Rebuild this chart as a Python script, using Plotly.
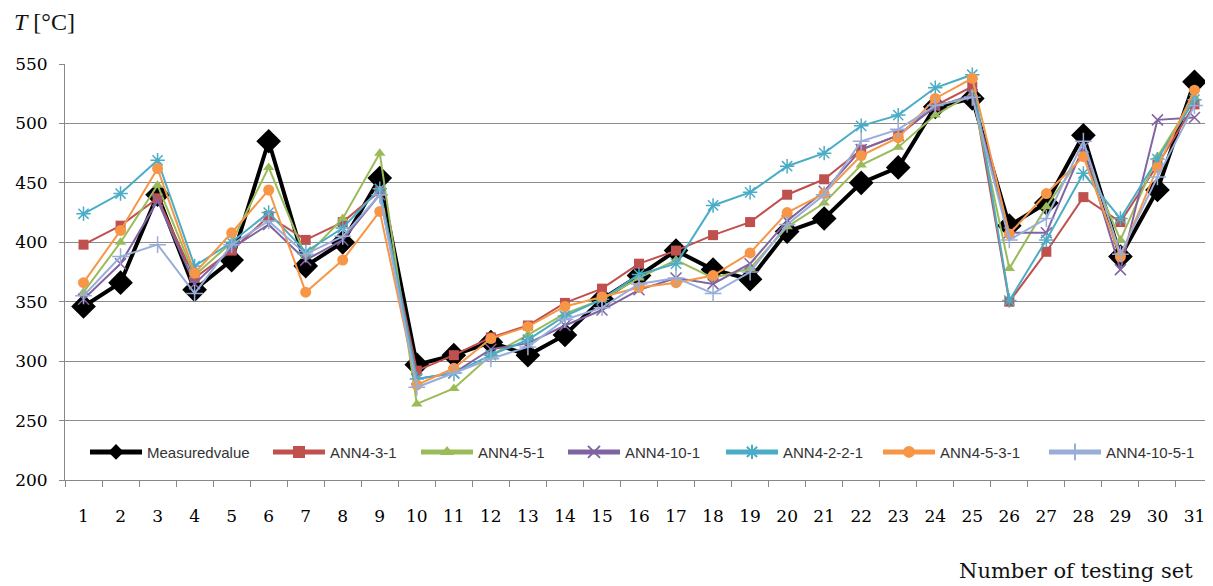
import plotly.graph_objects as go

categories = [str(i) for i in range(1, 32)]

measured = [346, 366, 440, 360, 385, 485, 380, 400, 454, 297, 305, 316, 305, 322, 352, 372,
            393, 377, 369, 409, 420, 450, 463, 514, 521, 414, 433, 490, 388, 444, 535]
ann4_3_1 = [398, 414, 437, 370, 393, 422, 402, 417, 443, 292, 305, 320, 330, 349, 361, 382,
            393, 406, 417, 440, 453, 478, 490, 515, 531, 350, 392, 438, 417, 465, 516]
ann4_5_1 = [358, 400, 448, 372, 400, 463, 388, 420, 475, 264, 277, 305, 322, 340, 352, 370,
            385, 370, 378, 413, 433, 465, 480, 507, 525, 378, 430, 475, 402, 472, 522]
ann4_10_1 = [352, 382, 435, 365, 395, 415, 385, 402, 440, 285, 290, 310, 315, 330, 343, 360,
             370, 365, 382, 418, 443, 478, 490, 514, 524, 408, 408, 480, 377, 503, 505]
ann4_2_2_1 = [424, 441, 469, 380, 400, 425, 392, 412, 445, 285, 290, 305, 318, 338, 352, 373,
              382, 431, 442, 464, 475, 498, 507, 530, 541, 351, 402, 458, 420, 470, 520]
ann4_5_3_1 = [366, 410, 462, 374, 408, 444, 358, 385, 426, 280, 294, 319, 329, 346, 354, 362,
              366, 372, 391, 425, 441, 473, 488, 521, 538, 407, 441, 472, 388, 463, 528]
ann4_10_5_1 = [355, 388, 398, 357, 398, 418, 390, 405, 440, 278, 290, 302, 312, 335, 345, 365,
               370, 357, 375, 415, 440, 485, 495, 515, 522, 402, 420, 485, 390, 455, 515]

series = [
    ("Measuredvalue", measured, "#000000", "diamond", 19, 4),
    ("ANN4-3-1", ann4_3_1, "#C0504D", "square", 10, 2),
    ("ANN4-5-1", ann4_5_1, "#9BBB59", "triangle-up", 10, 2),
    ("ANN4-10-1", ann4_10_1, "#8064A2", "x-thin-open", 11, 2),
    ("ANN4-2-2-1", ann4_2_2_1, "#4BACC6", "asterisk-open", 12, 2),
    ("ANN4-5-3-1", ann4_5_3_1, "#F79646", "circle", 11, 2),
    ("ANN4-10-5-1", ann4_10_5_1, "#98AED8", "cross-thin-open", 12, 2),
]

W, H = 1205, 578
L, T, B = 57, 56, 106
PW, PH = W - L, H - T - B

# legend entry starting positions (figure px)
legend_px = [77, 260, 408, 555, 713, 870, 1036]

fig = go.Figure()
layout_legends = {}
for i, (name, vals, color, sym, size, lw) in enumerate(series):
    marker = dict(symbol=sym, size=size, color=color)
    if "open" in sym:
        marker["line"] = dict(color=color, width=1.5)
    lg = "legend" if i == 0 else f"legend{i + 1}"
    fig.add_trace(go.Scatter(
        x=categories, y=vals, name=name, mode="lines+markers",
        line=dict(color=color, width=lw), marker=marker, legend=lg,
    ))
    layout_legends[lg] = dict(
        orientation="h", x=(legend_px[i] - L) / PW, y=0.067,
        xanchor="left", yanchor="middle",
        font=dict(family="Liberation Sans Narrow, Liberation Sans, Arial", size=15, color="#333"),
        bgcolor="rgba(255,255,255,0)", itemsizing="constant", itemwidth=52,
    )

fig.update_layout(
    width=W, height=H,
    margin=dict(l=L, r=0, t=T, b=B),
    paper_bgcolor="white", plot_bgcolor="white",
    showlegend=True,
    xaxis=dict(
        type="category", range=[-0.5, 30.5],
        tickson="boundaries", ticks="outside", ticklen=6, tickcolor="#888",
        showline=True, linecolor="#888", linewidth=1, showgrid=False,
        tickfont=dict(family="DejaVu Serif", size=17, color="#000"),
        ticklabelstandoff=21,
    ),
    yaxis=dict(
        range=[200, 550], dtick=50, tick0=200,
        showgrid=True, gridcolor="#8c8c8c", gridwidth=1,
        showline=True, linecolor="#888", linewidth=1,
        ticks="outside", ticklen=5, tickcolor="#888",
        tickfont=dict(family="DejaVu Serif", size=17, color="#000"),
        ticklabelstandoff=8, zeroline=False,
    ),
    **layout_legends,
)

# white band behind the legend row, like the reference
fig.add_shape(type="rect", xref="paper", yref="paper",
              x0=(legend_px[0] + 4 - L) / PW, x1=(1200 - L) / PW, y0=0.035, y1=0.1,
              fillcolor="white", line=dict(width=0), layer="above")

fig.add_annotation(text="<i>T</i> [°C]", xref="paper", yref="paper",
                   x=(4 - L) / PW, y=1 + (T - 14) / PH, xanchor="left", yanchor="middle",
                   showarrow=False,
                   font=dict(family="Liberation Serif, DejaVu Serif", size=24, color="#111"))
fig.add_annotation(text="Number of testing set", xref="paper", yref="paper",
                   x=(1187 - L) / PW, y=-(563 - (T + PH)) / PH, xanchor="right", yanchor="middle",
                   showarrow=False,
                   font=dict(family="DejaVu Serif", size=21, color="#111"))

fig.write_html("out.html")
